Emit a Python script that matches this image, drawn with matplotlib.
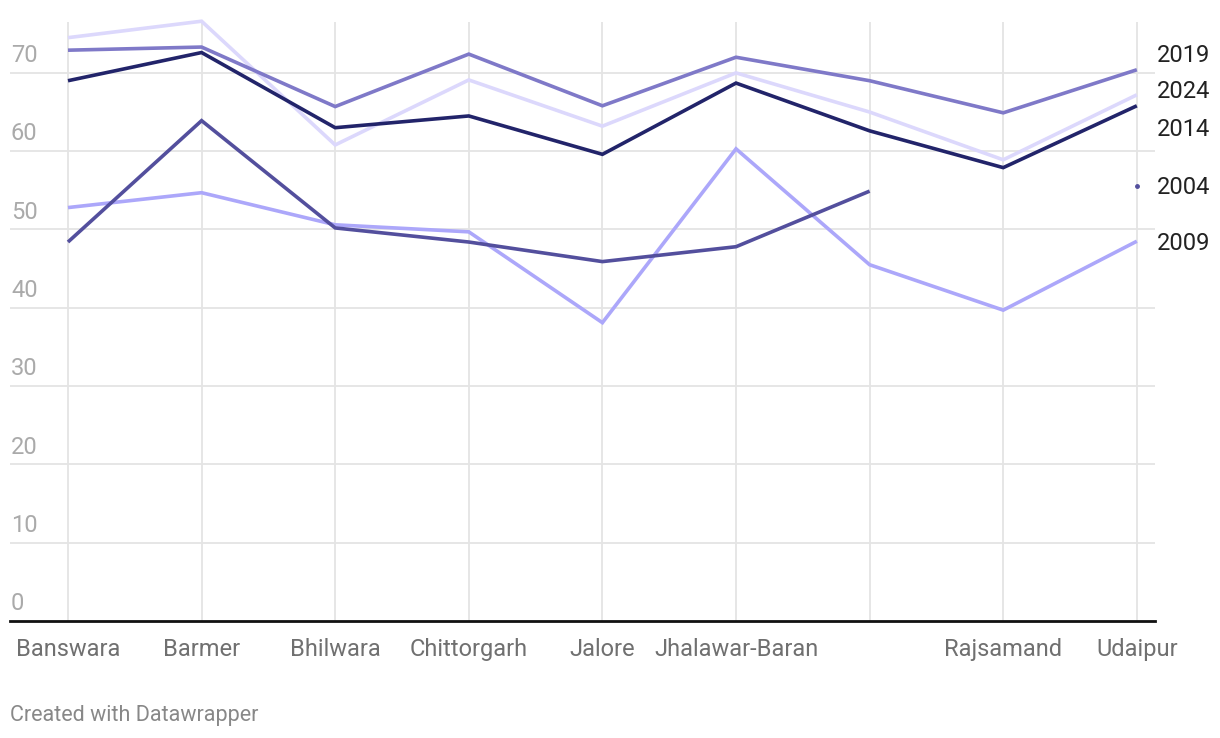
import numpy as np
import matplotlib.pyplot as plt
from matplotlib.transforms import blended_transform_factory

plt.rcParams['font.family'] = ['Roboto', 'DejaVu Sans']

# data
districts = ['Banswara', 'Barmer', 'Bhilwara', 'Chittorgarh', 'Jalore',
             'Jhalawar-Baran', '', 'Rajsamand', 'Udaipur']
years = ['2024', '2009', '2004', '2014', '2019']
v2019 = [72.9, 73.3, 65.7, 72.4, 65.8, 72.0, 69.0, 64.9, 70.4]
v2024 = [74.5, 76.6, 60.8, 69.1, 63.2, 70.0, 65.0, 58.9, 67.2]
v2014 = [69.0, 72.6, 63.0, 64.5, 59.6, 68.7, 62.6, 57.9, 65.8]
v2004 = [48.4, 63.9, 50.2, 48.4, 45.9, 47.8, 54.9, np.nan, 55.6]
v2009 = [52.8, 54.7, 50.6, 49.7, 38.1, 60.3, 45.5, 39.7, 48.5]
yticks = [0, 10, 20, 30, 40, 50, 60, 70]

series = {'2019': v2019, '2024': v2024, '2014': v2014, '2004': v2004, '2009': v2009}
colors = {'2019': '#7f79c8', '2024': '#dcd8fc', '2014': '#22246a',
          '2004': '#534f9d', '2009': '#aca7fa'}
label_y = {'2019': 56, '2024': 92, '2014': 130, '2004': 188, '2009': 243}  # px from top

W, H = 1220, 738
fig = plt.figure(figsize=(W / 100, H / 100), dpi=100)
ax = fig.add_axes([10 / W, (H - 621) / H, (1155 - 10) / W, (621 - 22) / H])

x = np.arange(len(districts))
ax.set_xlim(-0.434, 8.136)
ax.set_ylim(0, 76.5)

for yr in years:
    ax.plot(x, series[yr], color=colors[yr], lw=2.6, solid_capstyle='butt',
            solid_joinstyle='miter', zorder=3, clip_on=False)
# isolated 2004 point at Udaipur
ax.plot(x[-1], v2004[-1], 'o', color=colors['2004'], ms=2.5, zorder=3)

# grid
for t in yticks[1:]:
    ax.axhline(t, color='#e4e4e4', lw=1.3, zorder=1)
for xi in x:
    ax.axvline(xi, color='#e4e4e4', lw=1.3, zorder=1)

for s in ['top', 'right', 'left']:
    ax.spines[s].set_visible(False)
ax.spines['bottom'].set_color('#111111')
ax.spines['bottom'].set_linewidth(2)
ax.spines['bottom'].set_zorder(4)

ax.set_yticks([])
ax.set_xticks(x)
ax.set_xticklabels(districts, fontsize=17, color='#707070')
ax.tick_params(axis='x', length=0, pad=12.5)

# y labels sit above gridlines at left edge
tr = blended_transform_factory(fig.transFigure, ax.transData)
for t in yticks:
    ax.text(11 / W, t + 0.75, str(t), transform=tr, fontsize=17,
            color='#aaaaaa', va='bottom', ha='left')

# series labels on the right
for yr, py in label_y.items():
    fig.text(1157 / W, 1 - py / H, yr, fontsize=17, color='#222222',
             va='center', ha='left')

fig.text(10 / W, 1 - 716 / H, 'Created with Datawrapper', fontsize=15.5,
         color='#888888', va='center', ha='left')

fig.savefig('out.png', dpi=100)
